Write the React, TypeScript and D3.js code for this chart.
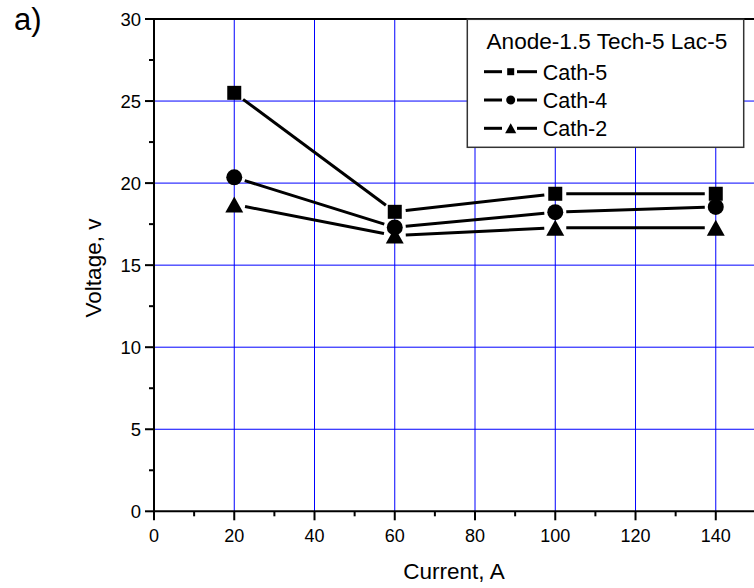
import React from "react";
import * as d3 from "d3";

const currents = [20, 60, 100, 140];
const cath5 = [25.5, 18.25, 19.35, 19.35];
const cath4 = [20.35, 17.3, 18.23, 18.55];
const cath2 = [18.7, 16.8, 17.28, 17.28];
const seriesNames = ["Cath-5", "Cath-4", "Cath-2"];
const seriesShapes = ["square", "circle", "triangle"];
const xTicks = [0, 20, 40, 60, 80, 100, 120, 140];
const yTicks = [0, 5, 10, 15, 20, 25, 30];
const legendTitle = "Anode-1.5 Tech-5 Lac-5";

const FONT = "'Liberation Sans', Arial, Helvetica, sans-serif";

function Marker({ shape, cx, cy, s }: { shape: string; cx: number; cy: number; s: number }) {
  if (shape === "square") {
    return <rect x={cx - s / 2} y={cy - s / 2} width={s} height={s} fill="#000" />;
  }
  if (shape === "circle") {
    return <circle cx={cx} cy={cy} r={s / 2} fill="#000" />;
  }
  const w = s * 1.12;
  const h = s;
  return (
    <path
      d={`M${cx},${cy - h / 2} L${cx + w / 2},${cy + h / 2} L${cx - w / 2},${cy + h / 2} Z`}
      fill="#000"
    />
  );
}

export default function App() {
  const x = d3.scaleLinear().domain([0, 150]).range([154, 755.9]);
  const y = d3.scaleLinear().domain([0, 30]).range([511.3, 19]);
  const allSeries = [cath5, cath4, cath2];
  const markerSizes = [14, 16, 16];
  const gap = 11;

  const xMinor = d3.range(10, 150, 20);
  const yMinor = d3.range(2.5, 30, 5);

  return (
    <svg
      width={754}
      height={588}
      style={{ position: "absolute", left: 0, top: 0, background: "#fff" }}
      fontFamily={FONT}
    >
      <rect x={0} y={0} width={754} height={588} fill="#fff" />
      {/* grid */}
      {xTicks
        .filter((t) => t > 0)
        .map((t) => (
          <line key={"gx" + t} x1={x(t)} x2={x(t)} y1={y(0)} y2={y(30)} stroke="#0000ff" strokeWidth={1} />
        ))}
      {yTicks
        .filter((t) => t > 0 && t < 30)
        .map((t) => (
          <line key={"gy" + t} x1={x(0)} x2={x(150)} y1={y(t)} y2={y(t)} stroke="#0000ff" strokeWidth={1} />
        ))}

      {/* axes frame */}
      <line x1={x(0)} x2={x(150)} y1={y(30)} y2={y(30)} stroke="#000" strokeWidth={2} />
      <line x1={x(150)} x2={x(150)} y1={y(30)} y2={y(0)} stroke="#000" strokeWidth={2} />
      <line x1={x(0)} x2={x(150)} y1={y(0)} y2={y(0)} stroke="#000" strokeWidth={2} />
      <line x1={x(0)} x2={x(0)} y1={y(30)} y2={y(0)} stroke="#000" strokeWidth={2} />

      {/* x ticks */}
      {xTicks.map((t) => (
        <g key={"xt" + t}>
          <line x1={x(t)} x2={x(t)} y1={y(0)} y2={y(0) + 9} stroke="#000" strokeWidth={2} />
          <text x={x(t)} y={541.5} textAnchor="middle" fontSize={18} fill="#000">
            {t}
          </text>
        </g>
      ))}
      {xMinor.map((t) => (
        <line key={"xm" + t} x1={x(t)} x2={x(t)} y1={y(0)} y2={y(0) + 5} stroke="#000" strokeWidth={2} />
      ))}
      {/* y ticks */}
      {yTicks.map((t) => (
        <g key={"yt" + t}>
          <line x1={x(0) - 9} x2={x(0)} y1={y(t)} y2={y(t)} stroke="#000" strokeWidth={2} />
          <text x={141} y={y(t) + 6.5} textAnchor="end" fontSize={18.5} fill="#000">
            {t}
          </text>
        </g>
      ))}
      {yMinor.map((t) => (
        <line key={"ym" + t} x1={x(0) - 5} x2={x(0)} y1={y(t)} y2={y(t)} stroke="#000" strokeWidth={2} />
      ))}

      {/* axis titles */}
      <text x={454} y={579} textAnchor="middle" fontSize={22.5} fill="#000">
        Current, A
      </text>
      <text
        transform={`translate(101,268) rotate(-90)`}
        textAnchor="middle"
        fontSize={22.5}
        fill="#000"
      >
        Voltage, v
      </text>
      <text x={14} y={30} fontSize={31} fill="#000">
        a)
      </text>

      {/* series */}
      {allSeries.map((vals, si) => {
        const pts = vals.map((v, i) => [x(currents[i]), y(v)] as [number, number]);
        const segs = [];
        for (let i = 0; i < pts.length - 1; i++) {
          const [x1, y1] = pts[i];
          const [x2, y2] = pts[i + 1];
          const dx = x2 - x1;
          const dy = y2 - y1;
          const len = Math.sqrt(dx * dx + dy * dy);
          const ux = dx / len;
          const uy = dy / len;
          segs.push(
            <line
              key={"s" + si + "-" + i}
              x1={x1 + ux * gap}
              y1={y1 + uy * gap}
              x2={x2 - ux * gap}
              y2={y2 - uy * gap}
              stroke="#000"
              strokeWidth={3}
            />
          );
        }
        return (
          <g key={"series" + si}>
            {segs}
            {pts.map(([px, py], i) => (
              <Marker key={"m" + si + "-" + i} shape={seriesShapes[si]} cx={px} cy={py} s={markerSizes[si]} />
            ))}
          </g>
        );
      })}

      {/* legend */}
      <rect x={467.3} y={19.3} width={276.4} height={128} fill="#fff" stroke="#333" strokeWidth={1.5} />
      <text x={486.5} y={49.3} fontSize={22.6} fill="#000">
        {legendTitle}
      </text>
      {seriesNames.map((name, i) => {
        const cy = 71.7 + i * 28.3;
        const lsizes = [7, 9, 10];
        return (
          <g key={"leg" + i}>
            <line x1={484} x2={502} y1={cy} y2={cy} stroke="#000" strokeWidth={3} />
            <line x1={517} x2={537} y1={cy} y2={cy} stroke="#000" strokeWidth={3} />
            <Marker shape={seriesShapes[i]} cx={510.7} cy={cy} s={lsizes[i]} />
            <text x={542.7} y={cy + 8} fontSize={21.5} fill="#000">
              {name}
            </text>
          </g>
        );
      })}
    </svg>
  );
}
